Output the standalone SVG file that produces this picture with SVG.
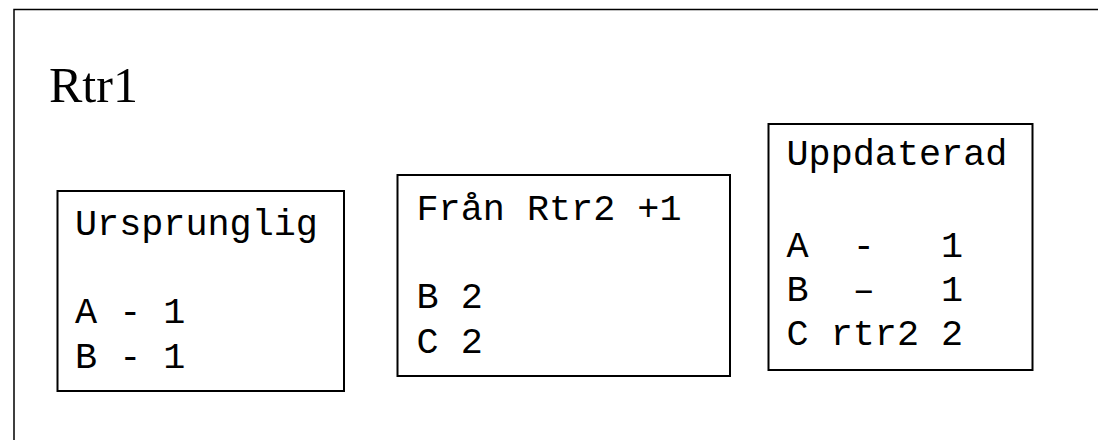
<svg xmlns="http://www.w3.org/2000/svg" width="1098" height="440" viewBox="0 0 1098 440">
<style>
.frame{fill:#fff;stroke:#000;stroke-width:1.5}
.box{fill:#fff;stroke:#000;stroke-width:2}
.mono{font-family:"Liberation Mono","Courier New",monospace;font-size:36.8px;fill:#000;white-space:pre}
.title{font-family:"Liberation Serif","Times New Roman",serif;font-size:50px;fill:#000}
</style>
<rect width="1098" height="440" fill="#fff"/>
<g id="rtr1">
<rect class="frame" x="14" y="9.5" width="1110" height="450"/>
<text class="title" x="49" y="101.5">Rtr1</text>
</g>
<g id="ursprunglig">
<rect class="box" x="57.5" y="191" width="286.5" height="200"/>
<text class="mono" x="75" y="235" xml:space="preserve">Ursprunglig</text>
<text class="mono" x="75" y="323" xml:space="preserve">A - 1</text>
<text class="mono" x="75" y="368" xml:space="preserve">B - 1</text>
</g>
<g id="fran">
<rect class="box" x="397.5" y="175" width="332.5" height="201"/>
<text class="mono" x="416.5" y="220" xml:space="preserve">Från Rtr2 +1</text>
<text class="mono" x="416.5" y="308" xml:space="preserve">B 2</text>
<text class="mono" x="416.5" y="352.5" xml:space="preserve">C 2</text>
</g>
<g id="uppdaterad">
<rect class="box" x="768.5" y="124" width="264" height="246"/>
<text class="mono" x="786.5" y="165" xml:space="preserve">Uppdaterad</text>
<text class="mono" x="786.5" y="256.5" xml:space="preserve">A  -   1</text>
<text class="mono" x="786.5" y="300.5" xml:space="preserve">B  –   1</text>
<text class="mono" x="786.5" y="345" xml:space="preserve">C rtr2 2</text>
</g>
<g id="connectors"/>
</svg>
